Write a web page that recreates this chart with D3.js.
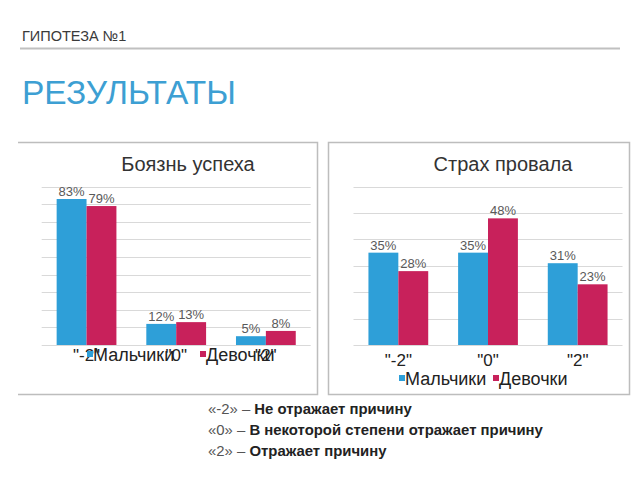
<!DOCTYPE html>
<html><head><meta charset="utf-8">
<script src="https://cdn.jsdelivr.net/npm/d3@7"></script>
<style>body{margin:0;background:#fff}svg{display:block;font-family:"Liberation Sans",Arial,sans-serif}</style>
</head><body>
<script>
const categories = ['"-2"', '"0"', '"2"'];
const seriesNames = ["Мальчики", "Девочки"];
const fearSuccessBoys = [0.83, 0.12, 0.05];
const fearSuccessGirls = [0.79, 0.13, 0.08];
const fearFailBoys = [0.35, 0.35, 0.31];
const fearFailGirls = [0.28, 0.48, 0.23];
const leftTicks = [0, 0.1, 0.2, 0.3, 0.4, 0.5, 0.6, 0.7, 0.8, 0.9];
const rightTicks = [0, 0.1, 0.2, 0.3, 0.4, 0.5, 0.6];
const notes = [
  ["«-2» – ", "Не отражает причину"],
  ["«0» – ", "В некоторой степени отражает причину"],
  ["«2» – ", "Отражает причину"]
];
const colors = ["#2E9FD8", "#C8215B"];

const svg = d3.select("body").append("svg").attr("width", 640).attr("height", 480);

svg.append("text").attr("x", 22).attr("y", 40.5).attr("font-size", 14.5).attr("fill", "#3a3a3a").text("ГИПОТЕЗА №1");
svg.append("line").attr("x1", 20).attr("x2", 620).attr("y1", 48.5).attr("y2", 48.5).attr("stroke", "#c0c0c0").attr("stroke-width", 2);
svg.append("text").attr("x", 22).attr("y", 104).attr("font-size", 33.5).attr("fill", "#3D9FD3").text("РЕЗУЛЬТАТЫ");

function chart(cfg) {
  const g = svg.append("g");
  g.append("path").attr("d", cfg.frame).attr("fill", "none").attr("stroke", "#bdbdbd").attr("stroke-width", 1.5);
  const x = d3.scaleBand().domain(categories).range(cfg.xr).paddingInner(0).paddingOuter(0);
  const xs = d3.scaleBand().domain(seriesNames).range([0, x.bandwidth()]).paddingInner(0).paddingOuter(0.5);
  const y = d3.scaleLinear().domain([0, cfg.max]).range([345, 186.7]);
  g.selectAll(".grid").data(cfg.ticks).join("line")
    .attr("x1", cfg.xr[0]).attr("x2", cfg.xr[1])
    .attr("y1", d => Math.round(y(d)) + 0.5).attr("y2", d => Math.round(y(d)) + 0.5)
    .attr("stroke", "#d9d9d9").attr("stroke-width", 1);
  const rows = categories.map((c, i) => ({c, vals: [cfg.a[i], cfg.b[i]]}));
  rows.forEach(r => {
    r.vals.forEach((v, k) => {
      const bx = x(r.c) + xs(seriesNames[k]);
      g.append("rect").attr("x", bx).attr("y", y(v)).attr("width", xs.bandwidth()).attr("height", y(0) - y(v)).attr("fill", colors[k]);
      g.append("text").attr("x", bx + xs.bandwidth() / 2).attr("y", y(v) - 3).attr("text-anchor", "middle")
        .attr("font-size", 13).attr("fill", "#595959").text(d3.format(".0%")(v));
    });
    g.append("text").attr("x", x(r.c) + x.bandwidth() / 2).attr("y", cfg.labelY).attr("text-anchor", "middle")
      .attr("font-size", 17).attr("fill", "#222").text(r.c);
  });
  g.append("text").attr("x", cfg.titleX).attr("y", 171).attr("text-anchor", "middle").attr("font-size", 20).attr("fill", "#333").text(cfg.title);
  seriesNames.forEach((s, k) => {
    g.append("rect").attr("x", cfg.leg[k]).attr("y", cfg.legY - 10).attr("width", 6).attr("height", 6).attr("fill", colors[k]);
    g.append("text").attr("x", cfg.leg[k] + 6).attr("y", cfg.legY).attr("font-size", 18).attr("fill", "#222").text(s);
  });
}

chart({frame: "M18,142.5H317.5V394.5H18", xr: [41.7, 310.7], max: 0.9, ticks: leftTicks, a: fearSuccessBoys, b: fearSuccessGirls,
  labelY: 361, title: "Боязнь успеха", titleX: 188, leg: [87, 200], legY: 361});
chart({frame: "M328.5,142.5H629.5V394.5H328.5Z", xr: [353.5, 622.5], max: 0.6, ticks: rightTicks, a: fearFailBoys, b: fearFailGirls,
  labelY: 366, title: "Страх провала", titleX: 503, leg: [399, 493], legY: 385});

notes.forEach((n, i) => {
  const t = svg.append("text").attr("x", 208).attr("y", 414 + i * 21).attr("font-size", 14.9);
  t.append("tspan").attr("fill", "#555").text(n[0]);
  t.append("tspan").attr("fill", "#222").attr("font-weight", "bold").text(n[1]);
});
</script>
</body></html>
